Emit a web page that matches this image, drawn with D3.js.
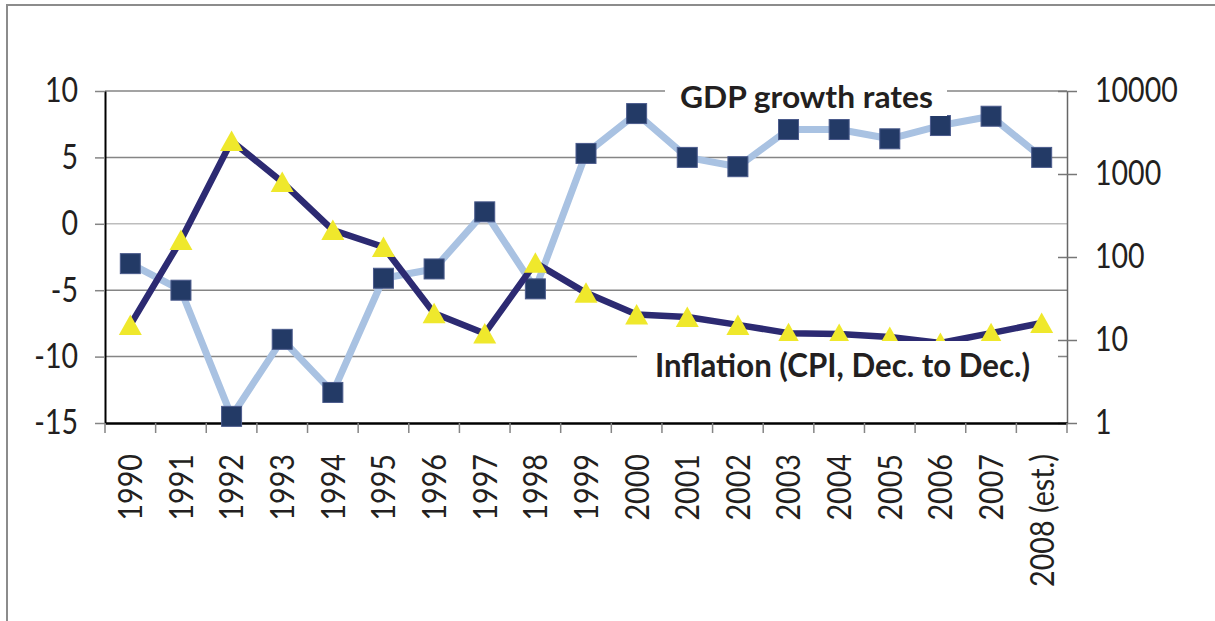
<!DOCTYPE html>
<html>
<head>
<meta charset="utf-8">
<script src="https://cdn.jsdelivr.net/npm/d3@7"></script>
<style>
  body { margin: 0; background: #fff; }
  text { font-family: Lato, "Liberation Sans", sans-serif; fill: #231f20; }
</style>
</head>
<body>
<div id="chart"></div>
<script>
// years on the x axis
var years = ["1990", "1991", "1992", "1993", "1994", "1995", "1996", "1997", "1998", "1999",
             "2000", "2001", "2002", "2003", "2004", "2005", "2006", "2007", "2008 (est.)"];
// GDP growth, %, left axis
var gdpGrowth = [-3.0, -5.0, -14.5, -8.7, -12.7, -4.1, -3.4, 0.9, -4.9, 5.3,
                 8.3, 5.0, 4.3, 7.1, 7.1, 6.4, 7.4, 8.1, 5.0];
// inflation, %, right (log) axis
var inflation = [15.2, 160, 2500, 800, 211, 132, 21, 12, 85, 37,
                 20.3, 18.9, 15.2, 12.1, 11.8, 10.9, 9.2, 12.1, 16.0];
var leftTicks = [-15, -10, -5, 0, 5, 10];
var rightTicks = [1, 10, 100, 1000, 10000];

var W = 1215, H = 621;
var plot = {left: 105, right: 1067, top: 91, bottom: 423};
var squeeze = 0.84;   // tick labels are a bit narrow in the original

var svg = d3.select('#chart').append('svg')
    .attr('width', W)
    .attr('height', H);

// outer frame
svg.append('rect')
    .attr('x', 7).attr('y', 5)
    .attr('width', 1300).attr('height', 700)
    .style('fill', 'none')
    .style('stroke', '#8c8c8c')
    .style('stroke-width', 2);

var x = d3.scaleBand().domain(years).range([plot.left, plot.right]);
var yL = d3.scaleLinear().domain([-15, 10]).range([plot.bottom, plot.top]);
var yR = d3.scaleLog().domain([1, 10000]).range([plot.bottom, plot.top]);

// gridlines
svg.append('g').selectAll('line').data(leftTicks.filter(function (d) { return d > -15; }))
    .enter().append('line')
    .attr('x1', plot.left).attr('x2', plot.right)
    .attr('y1', function (d) { return yL(d); })
    .attr('y2', function (d) { return yL(d); })
    .style('stroke', function (d) { return d === 0 ? '#bdbdbd' : '#858585'; })
    .style('stroke-width', 1.5);

// left axis
var gL = svg.append('g')
    .attr('transform', 'translate(' + plot.left + ',0)')
    .call(d3.axisLeft(yL).tickValues(leftTicks).tickFormat(function (d) { return String(d); })
        .tickSize(10).tickSizeOuter(0));
gL.select('.domain').style('stroke', '#000').style('stroke-width', 2);
gL.selectAll('.tick line').style('stroke', '#858585').style('stroke-width', 1.5);
gL.selectAll('.tick text')
    .attr('x', -27 / squeeze)
    .attr('transform', 'scale(' + squeeze + ',1)')
    .style('font-size', '34px')
    .style('fill', '#231f20');

// right axis
var gR = svg.append('g')
    .attr('transform', 'translate(' + plot.right + ',0)')
    .call(d3.axisRight(yR).tickValues(rightTicks).tickFormat(d3.format('d')).tickSize(10).tickSizeOuter(0));
gR.select('.domain').style('stroke', '#666').style('stroke-width', 1.5);
gR.selectAll('.tick line').attr('x1', -9).style('stroke', '#777').style('stroke-width', 1.5);
gR.selectAll('.tick text')
    .attr('x', 28 / squeeze)
    .attr('transform', 'scale(' + squeeze + ',1)')
    .style('font-size', '34px')
    .style('fill', '#231f20');

// bottom axis: labels from the axis, ticks on band edges
var gB = svg.append('g')
    .attr('transform', 'translate(0,' + plot.bottom + ')')
    .call(d3.axisBottom(x).tickSize(0).tickSizeOuter(0));
gB.select('.domain').style('stroke', '#000').style('stroke-width', 2.5);
gB.selectAll('.tick text')
    .attr('text-anchor', 'end')
    .attr('x', -31 / 0.87)
    .attr('y', 0)
    .attr('dy', '0.36em')
    .attr('transform', 'rotate(-90) scale(0.87,1)')
    .style('font-size', '33px')
    .style('fill', '#231f20');
gB.append('g').selectAll('line').data(years.concat(['end']))
    .enter().append('line')
    .attr('x1', function (d) { return d === 'end' ? x.range()[1] : x(d); })
    .attr('x2', function (d) { return d === 'end' ? x.range()[1] : x(d); })
    .attr('y1', 0).attr('y2', 10)
    .style('stroke', '#858585')
    .style('stroke-width', 1.5);

var cx = function (d, i) { return x(years[i]) + x.bandwidth() / 2; };

// GDP growth series
svg.append('path')
    .datum(gdpGrowth)
    .attr('d', d3.line().x(cx).y(function (d) { return yL(d); }))
    .style('fill', 'none')
    .style('stroke', '#a9c2e2')
    .style('stroke-width', 7)
    .style('stroke-linejoin', 'round');

svg.append('g').selectAll('rect').data(gdpGrowth)
    .enter().append('rect')
    .attr('x', function (d, i) { return cx(d, i) - 10; })
    .attr('y', function (d) { return yL(d) - 10; })
    .attr('width', 20).attr('height', 20)
    .style('fill', '#233a66')
    .style('stroke', '#4b5b8c')
    .style('stroke-width', 1);

// inflation series
svg.append('path')
    .datum(inflation)
    .attr('d', d3.line().x(cx).y(function (d) { return yR(d); }))
    .style('fill', 'none')
    .style('stroke', '#2c2a72')
    .style('stroke-width', 6.5)
    .style('stroke-linejoin', 'round');

svg.append('g').selectAll('path').data(inflation)
    .enter().append('path')
    .attr('transform', function (d, i) { return 'translate(' + cx(d, i) + ',' + yR(d) + ')'; })
    .attr('d', 'M0,-10.5L11.5,10L-11.5,10Z')
    .style('fill', '#efe82c');

// series labels on white boxes
svg.append('rect')
    .attr('x', 665).attr('y', 72).attr('width', 282).attr('height', 44)
    .style('fill', '#fff');
svg.append('text')
    .attr('x', 680).attr('y', 108)
    .attr('textLength', 253).attr('lengthAdjust', 'spacingAndGlyphs')
    .style('font-size', '30px').style('font-weight', 'bold')
    .text('GDP growth rates');

svg.append('rect')
    .attr('x', 637).attr('y', 341).attr('width', 421).attr('height', 50)
    .style('fill', '#fff');
svg.append('text')
    .attr('x', 655).attr('y', 377)
    .attr('textLength', 375).attr('lengthAdjust', 'spacingAndGlyphs')
    .style('font-size', '32px').style('font-weight', 'bold')
    .text('Inflation (CPI, Dec. to Dec.)');
</script>
</body>
</html>
